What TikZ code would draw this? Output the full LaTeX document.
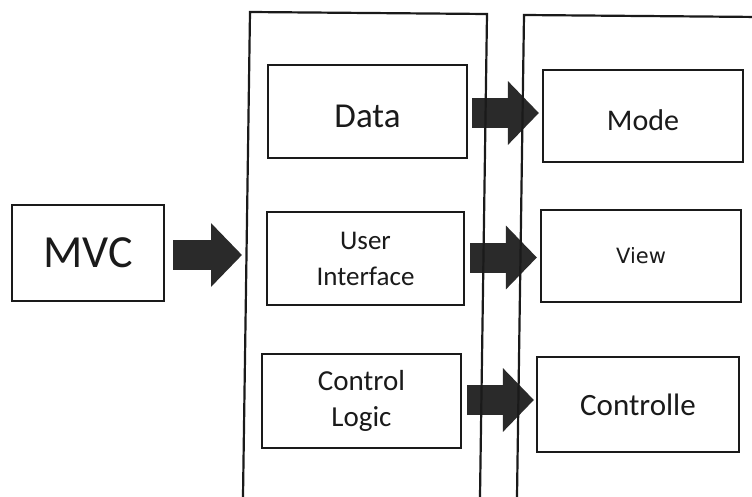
\documentclass[tikz,border=0pt]{standalone}
\usepackage{fontspec}
\setmainfont{Carlito}
\newfontfamily\viewfont{DejaVu Sans}
\usetikzlibrary{arrows.meta}
\definecolor{ink}{HTML}{1A1A1A}
\definecolor{arrowfill}{HTML}{2A2A2A}
\begin{document}
\begin{tikzpicture}[x=1pt,y=-1pt,
  box/.style={draw=ink,line width=2.2pt,inner sep=0pt,align=center,text=ink},
  frame/.style={draw=ink,line width=2.2pt},
  bigarrow/.style={arrowfill,line width=30pt,-{Triangle[width=62pt,length=31pt]}}]
\useasboundingbox (0,0) rectangle (752,497);
\fill[white] (0,0) rectangle (752,497);

% left column: the MVC box
\node[box,minimum width=152pt,minimum height=96pt,font=\fontsize{46}{50}\selectfont] (mvc) at (88,253) {MVC};

% middle column
\node[box,minimum width=199pt,minimum height=93pt,font=\fontsize{35}{40}\selectfont] (data) at (367.5,111.5) {\raisebox{-5pt}[\height][0pt]{Data}};
\node[box,minimum width=197pt,minimum height=93pt,font=\fontsize{27}{36}\selectfont] (ui) at (365.5,258.5) {User\\Interface};
\node[box,minimum width=199pt,minimum height=94pt,font=\fontsize{29}{36}\selectfont] (cl) at (361.5,401) {Control\\Logic};

% right column
\node[box,minimum width=200pt,minimum height=92pt,font=\fontsize{30}{36}\selectfont] (mode) at (643,116) {\raisebox{-4pt}[\height][0pt]{Mode}};
\node[box,minimum width=200pt,minimum height=92pt,font=\viewfont\fontsize{21}{26}\selectfont] (view) at (641,256) {View};
\node[box,minimum width=202pt,minimum height=95pt,font=\fontsize{31}{36}\selectfont] (ctrl) at (638,404.5) {Controlle};

\coordinate (mvcin) at (242,255);

% block arrows
\draw[bigarrow] ([xshift=8pt,yshift=-2pt]mvc.east) -- (mvcin);
\draw[bigarrow] ([xshift=4pt,yshift=-1.5pt]data.east) -- ([xshift=-3pt,yshift=3pt]mode.west);
\draw[bigarrow] ([xshift=5pt,yshift=1pt]ui.east) -- ([xshift=-3pt,yshift=-1.5pt]view.west);
\draw[bigarrow] ([xshift=5pt,yshift=1pt]cl.east) -- ([xshift=-2pt,yshift=4.5pt]ctrl.west);

% the two open container frames
\begin{scope}
\clip (0,0) rectangle (752,497);
\draw[frame] (242.8,510) -- (250,12) -- (487,14) -- (479.8,510);
\draw[frame] (516.8,510) -- (524,15) -- (760,17);
\end{scope}
\end{tikzpicture}
\end{document}
